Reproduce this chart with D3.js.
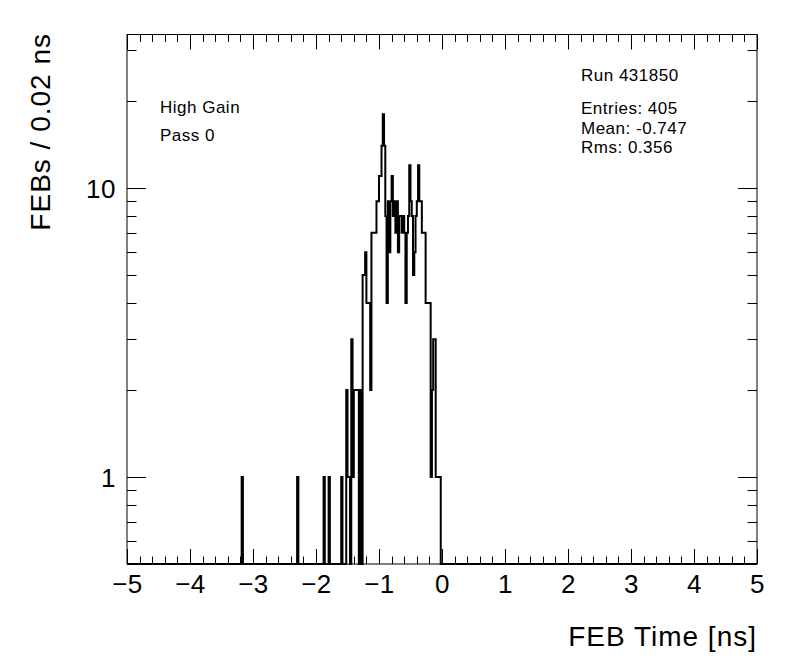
<!DOCTYPE html>
<meta charset="utf-8">
<head>
<style>
body { margin: 0; background: #fff; }
text { font-family: "Liberation Sans", Arial, sans-serif; fill: #000; }
</style>
</head>
<body>
<svg width="796" height="672"></svg>
<script src="https://d3js.org/d3.v7.min.js"></script>
<script>

// lower edge of each non-empty bin (bin width 0.02 ns) and its count
var binLow = [-3.18, -2.30, -1.88, -1.80, -1.60,
  -1.52, -1.50, -1.48, -1.44, -1.42, -1.40, -1.38, -1.36, -1.34, -1.30,
  -1.26, -1.24, -1.22, -1.20, -1.18, -1.16, -1.14, -1.12, -1.10, -1.08, -1.06, -1.04, -1.02,
  -1.00, -0.98, -0.96, -0.94, -0.92, -0.90, -0.88, -0.86,
  -0.84, -0.82, -0.80, -0.78, -0.76, -0.74, -0.72, -0.70, -0.68, -0.66, -0.64, -0.62,
  -0.60, -0.58, -0.56, -0.54, -0.52, -0.50, -0.48, -0.46, -0.44, -0.42, -0.40, -0.38,
  -0.36, -0.34, -0.32, -0.30, -0.28, -0.26, -0.24, -0.22, -0.20, -0.18, -0.16, -0.14,
  -0.12, -0.10, -0.08, -0.06, -0.04];
var binCount = [1, 1, 1, 1, 1,
  2, 1, 1, 3, 1, 2, 2, 2, 2, 2,
  5, 5, 6, 4, 4, 4, 2, 7, 7, 7, 7, 9, 9,
  11, 11, 14, 18, 14, 8, 4, 9,
  6, 9, 11, 8, 9, 7, 9, 6, 8, 8, 7, 8,
  7, 4, 7, 8, 12, 9, 8, 5, 6, 8, 9, 12,
  9, 9, 7, 7, 7, 4, 4, 4, 4, 1, 2, 3,
  3, 1, 1, 1, 1];

var xMin = -5, xMax = 5, binWidth = 0.02;
var xMajor = d3.range(-5, 5.001, 1);
var yMajor = [1, 10];
var yMinor = [0.6, 0.7, 0.8, 0.9, 2, 3, 4, 5, 6, 7, 8, 9, 20, 30];
var leftText = ["High Gain", "Pass 0"];
var runText = "Run 431850";
var statText = ["Entries: 405", "Mean: -0.747", "Rms: 0.356"];

var svg = d3.select("svg");
var fL = 127, fR = 757, fT = 34.5, fB = 564;

var x = d3.scaleLinear().domain([xMin, xMax]).range([fL, fR]);
var y = d3.scaleLog().domain([0.5, 34]).range([fB, fT]);

// fill all 500 bins
var nBins = Math.round((xMax - xMin) / binWidth);
var counts = new Array(nBins).fill(0);
binLow.forEach(function(v, i) {
  counts[Math.round((v - xMin) / binWidth)] = binCount[i];
});

var pts = counts.map(function(c, i) { return [xMin + i * binWidth, c]; });
pts.push([xMax, counts[nBins - 1]]);

var line = d3.line()
  .curve(d3.curveStepAfter)
  .x(function(d) { return x(d[0]); })
  .y(function(d) { return d[1] > 0 ? y(d[1]) : fB; });

svg.append("path")
  .attr("d", line(pts))
  .attr("fill", "none")
  .attr("stroke", "#000")
  .attr("stroke-width", 2);

// frame
svg.append("rect")
  .attr("x", fL).attr("y", fT)
  .attr("width", fR - fL).attr("height", fB - fT)
  .attr("fill", "none").attr("stroke", "#000").attr("stroke-width", 1);

var xMinor = d3.range(-5, 5.001, 0.2).filter(function(v) {
  return Math.abs(v - Math.round(v)) > 1e-6;
});

var ticks = svg.append("g").attr("stroke", "#000").attr("stroke-width", 1);
function xt(vals, len) {
  vals.forEach(function(v) {
    var px = Math.round(x(v)) + 0.5;
    ticks.append("line").attr("x1", px).attr("x2", px).attr("y1", fB).attr("y2", fB - len);
    ticks.append("line").attr("x1", px).attr("x2", px).attr("y1", fT).attr("y2", fT + len);
  });
}
function yt(vals, len) {
  vals.forEach(function(v) {
    var py = Math.round(y(v)) + 0.5;
    ticks.append("line").attr("y1", py).attr("y2", py).attr("x1", fL).attr("x2", fL + len);
    ticks.append("line").attr("y1", py).attr("y2", py).attr("x1", fR).attr("x2", fR - len);
  });
}
xt(xMajor, 15);
xt(xMinor, 7.5);
yt(yMajor, 19);
yt(yMinor, 9.5);

var fmt = d3.format("d");
svg.append("g").selectAll("text")
  .data(xMajor).enter().append("text")
  .attr("x", function(d) { return x(d) + 0.5; })
  .attr("y", 593)
  .attr("text-anchor", "middle")
  .style("font-size", "26px")
  .style("letter-spacing", "0.5px")
  .text(function(d) { return fmt(d); });

svg.append("g").selectAll("text")
  .data(yMajor).enter().append("text")
  .attr("x", 116)
  .attr("y", function(d) { return y(d) + 9.5; })
  .attr("text-anchor", "end")
  .style("font-size", "26px")
  .style("letter-spacing", "0.5px")
  .text(function(d) { return d; });

svg.append("text")
  .attr("x", 757).attr("y", 646)
  .attr("text-anchor", "end")
  .style("font-size", "28px")
  .style("letter-spacing", "1px")
  .text("FEB Time [ns]");

svg.append("text")
  .attr("transform", "translate(50,33) rotate(-90)")
  .attr("text-anchor", "end")
  .style("font-size", "28px")
  .style("letter-spacing", "1px")
  .text("FEBs / 0.02 ns");

svg.append("g").selectAll("text")
  .data(leftText).enter().append("text")
  .attr("x", 160)
  .attr("y", function(d, i) { return 113 + i * 28; })
  .style("font-size", "17px")
  .style("letter-spacing", "0.5px")
  .text(function(d) { return d; });

svg.append("text")
  .attr("x", 581).attr("y", 81)
  .style("font-size", "17px")
  .style("letter-spacing", "0.5px")
  .text(runText);

svg.append("g").selectAll("text")
  .data(statText).enter().append("text")
  .attr("x", 581)
  .attr("y", function(d, i) { return 114 + i * 19.5; })
  .style("font-size", "17px")
  .style("letter-spacing", "0.5px")
  .text(function(d) { return d; });

</script>
</body>
